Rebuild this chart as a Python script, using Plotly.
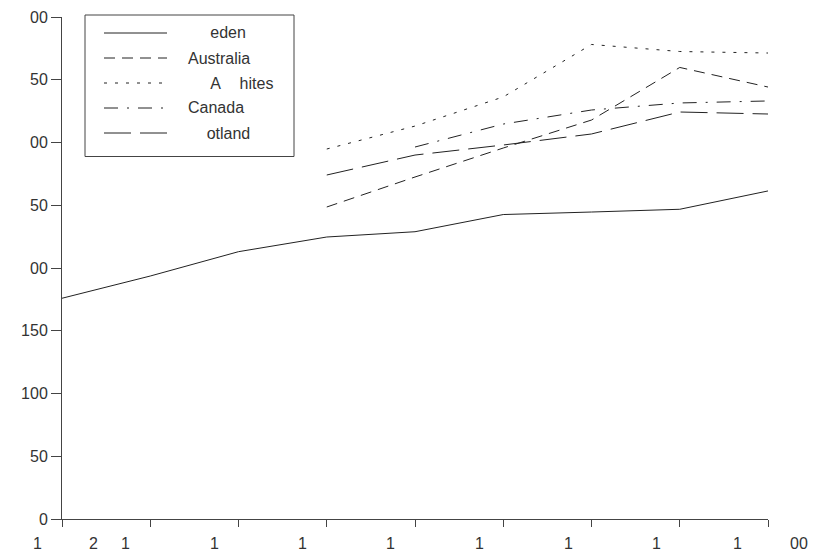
import plotly.graph_objects as go

# ---------------- data ----------------
periods = [0, 1, 2, 3, 4, 5, 6, 7, 8]
sweden = [175.9, 193.6, 213.0, 224.7, 228.9, 242.6, 244.6, 246.8, 261.4]
australia = [None, None, None, 248.6, 272.5, 295.6, 317.9, 359.8, 344.2]
usa_whites = [None, None, None, 294.8, 313.1, 336.3, 378.1, 372.5, 371.3]
canada = [None, None, None, None, 296.4, 314.7, 325.9, 331.5, 333.1]
scotland = [None, None, None, 274.1, 290.0, 298.0, 306.8, 324.3, 322.7]

series_names = ["Sweden", "Australia", "USA Whites", "Canada", "Scotland"]
y_tick_values = [0, 50, 100, 150, 200, 250, 300, 350, 400]
# glyphs that did not render in the reference are kept as invisible text
HID = "<span style='color:rgba(0,0,0,0)'>{}</span>"
y_tick_labels = ["0", "50", "100", "150",
                 HID.format("2") + "00", HID.format("2") + "50",
                 HID.format("3") + "00", HID.format("3") + "50",
                 HID.format("4") + "00"]
legend_labels = [HID.format("Sw") + "eden",
                 "Australia",
                 HID.format("US") + "A " + HID.format("W") + "hites",
                 "Canada",
                 HID.format("Sc") + "otland"]
# visible fragments of the x tick labels: (tick index, text)
x_label_fragments = [(0, "1"), (0, "2"), (1, "1"), (2, "1"), (3, "1"), (4, "1"),
                     (5, "1"), (6, "1"), (7, "1"), (8, "1"), (8, "00")]

# ---------------- styles ----------------
x_frag_shift = [-25, 31, -25, -24.5, -24.5, -25, -24, -23.5, -23, -31, 30.5]
dashes = ["solid", "11px,7px", "3px,8px", "14px,9px,2px,9px", "27px,9px"]
LINE = "#222222"
AXIS = "#444444"
TEXT = "#333333"
FONT = "Liberation Sans, Arial, sans-serif"

OFF = 8                       # page body margin
W, H = 824 - OFF, 557 - OFF
PLOT_L, PLOT_R, PLOT_T, PLOT_B = 62, 768, 17, 519   # screen px
ML, MT = PLOT_L - OFF, PLOT_T - OFF
PW, PH = PLOT_R - PLOT_L, PLOT_B - PLOT_T
MR, MB = W - ML - PW, H - MT - PH


def px(xp):
    return (xp - PLOT_L) / PW


def py(yp):
    return (PLOT_B - yp) / PH


fig = go.Figure()
all_series = [sweden, australia, usa_whites, canada, scotland]
for name, vals, dash in zip(series_names, all_series, dashes):
    fig.add_trace(go.Scatter(x=periods, y=vals, mode="lines", name=name,
                             line=dict(color=LINE, width=1, dash=dash),
                             showlegend=False, connectgaps=False))

# x tick label fragments
for (idx, txt), shift in zip(x_label_fragments, x_frag_shift):
    fig.add_annotation(x=periods[idx], y=0, xref="x", yref="paper", text=txt,
                       showarrow=False, xanchor="center", yanchor="middle",
                       xshift=shift, yshift=-24,
                       font=dict(family=FONT, size=16, color=TEXT))

# custom legend box
fig.add_shape(type="rect", xref="paper", yref="paper",
              x0=px(85), x1=px(294), y0=py(15), y1=py(156.5),
              line=dict(color=AXIS, width=1), fillcolor="white", layer="above")
rows = [33, 58, 83, 108, 133]
for label, dash, r in zip(legend_labels, dashes, rows):
    fig.add_shape(type="line", xref="paper", yref="paper",
                  x0=px(104), x1=px(167), y0=py(r), y1=py(r),
                  line=dict(color=LINE, width=1, dash=dash), layer="above")
    fig.add_annotation(x=px(186), y=py(r), xref="paper", yref="paper",
                       text=label, showarrow=False, xanchor="left",
                       yanchor="middle",
                       font=dict(family=FONT, size=16, color=TEXT))

fig.update_layout(
    width=W, height=H,
    margin=dict(l=ML, r=MR, t=MT, b=MB, pad=0, autoexpand=False),
    paper_bgcolor="white", plot_bgcolor="white",
    font=dict(family=FONT, size=16, color=TEXT),
    showlegend=False,
)
fig.update_xaxes(range=[0, 8], tickvals=periods, ticktext=[""] * len(periods),
                 showline=True, linecolor=AXIS, linewidth=1, automargin=False,
                 ticks="outside", ticklen=7, tickcolor=AXIS, tickwidth=1,
                 showgrid=False, zeroline=False, fixedrange=True)
fig.update_yaxes(range=[0, 400], tickvals=y_tick_values, ticktext=y_tick_labels,
                 showline=True, linecolor=AXIS, linewidth=1, automargin=False,
                 ticks="outside", ticklen=10, tickcolor=AXIS, tickwidth=1,
                 showgrid=False, zeroline=False, fixedrange=True,
                 tickfont=dict(family=FONT, size=16, color=TEXT))

fig.write_html("out.html")
